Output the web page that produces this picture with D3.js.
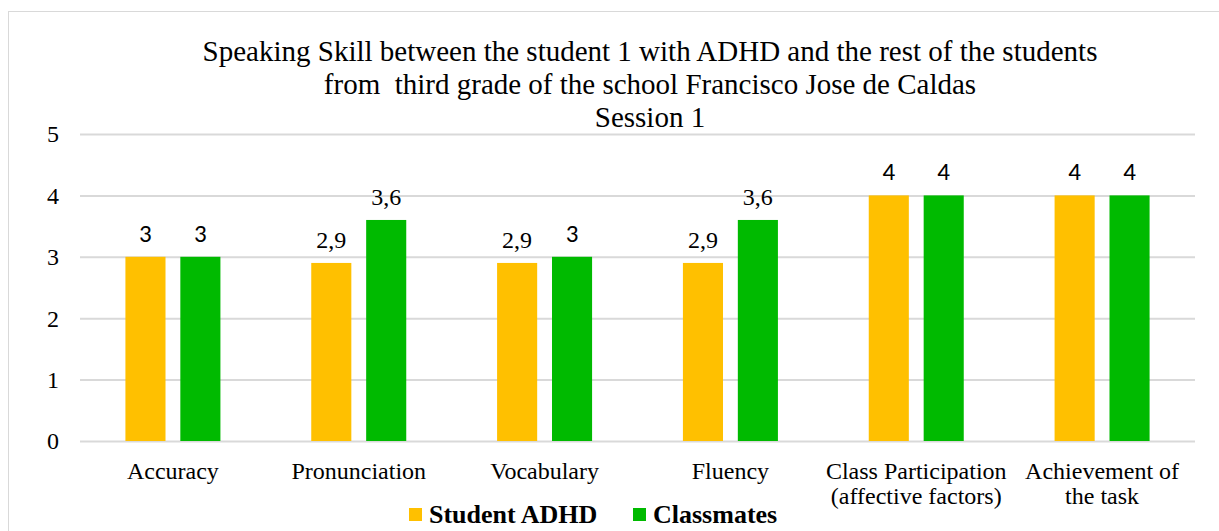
<!DOCTYPE html>
<html><head><meta charset="utf-8">
<script src="https://cdn.jsdelivr.net/npm/d3@7"></script>
<style>body{margin:0;background:#fff}svg{display:block}</style>
</head><body>
<script>
const categories = ["Accuracy|", "Pronunciation|", "Vocabulary|", "Fluency|", "Class Participation|(affective factors)", "Achievement of|the task"];
const seriesNames = ["Student ADHD", "Classmates"];
const studentADHD = [3, 2.9, 2.9, 2.9, 4, 4];
const classmates = [3, 3.6, 3, 3.6, 4, 4];
const yTicks = [0, 1, 2, 3, 4, 5];
const titleLines = ["Speaking Skill between the student 1 with ADHD and the rest of the students", "from  third grade of the school Francisco Jose de Caldas", "Session 1"];
const colors = ["#FFC000", "#00BA00"];

const W = 1219, H = 531;
const svg = d3.select("body").append("svg").attr("width", W).attr("height", H);
svg.append("rect").attr("x", 8.5).attr("y", 11.5).attr("width", 1230).attr("height", 560)
  .attr("fill", "none").attr("stroke", "#d9d9d9");

const x0 = d3.scaleBand().domain(d3.range(categories.length)).range([80, 1195]);
const x1 = d3.scaleBand().domain([0, 1]).range([x0.bandwidth() / 2 - 47.5, x0.bandwidth() / 2 + 47.5]).paddingInner(0.27);
const y = d3.scaleLinear().domain([0, 5]).range([441, 134]);

const serif = '"Liberation Serif", "Times New Roman", serif';
const calibri = 'Carlito, Lato, sans-serif';

// title
svg.append("g").selectAll("text").data(titleLines).join("text")
  .attr("x", 650).attr("y", (d, i) => 61 + i * 33).attr("text-anchor", "middle")
  .style("font-family", serif).style("font-size", "29px").attr("fill", "#000")
  .style("white-space", "pre").text(d => d);

// gridlines
const yAxis = d3.axisLeft(y).tickValues(yTicks).tickSize(-(1195 - 80)).tickFormat(d3.format("d")).tickPadding(21);
const ga = svg.append("g").attr("transform", "translate(80,0)").call(yAxis);
ga.select(".domain").remove();
ga.selectAll(".tick line").attr("stroke", "#d9d9d9").attr("stroke-width", 2);
ga.selectAll(".tick text").style("font-family", serif).style("font-size", "24px").attr("fill", "#000").attr("dy", "0.33em");

const data = categories.map((c, i) => [studentADHD[i], classmates[i]]);
const groups = svg.append("g").selectAll("g").data(data).join("g")
  .attr("transform", (d, i) => `translate(${x0(i)},0)`);
groups.selectAll("rect").data(d => d).join("rect")
  .attr("x", (d, j) => x1(j)).attr("width", x1.bandwidth())
  .attr("y", d => y(d)).attr("height", d => y(0) - y(d))
  .attr("fill", (d, j) => colors[j]);
groups.selectAll("text").data(d => d).join("text")
  .attr("x", (d, j) => x1(j) + x1.bandwidth() / 2).attr("y", d => y(d) - 15)
  .attr("text-anchor", "middle")
  .style("font-family", d => Number.isInteger(d) ? calibri : serif)
  .style("font-size", d => Number.isInteger(d) ? "25px" : "24px").attr("fill", "#000")
  .text(d => String(d).replace(".", ","));

// category labels
const cl = svg.append("g").selectAll("text").data(categories).join("text")
  .attr("x", (d, i) => x0(i) + x0.bandwidth() / 2).attr("y", 479)
  .attr("text-anchor", "middle").style("font-family", serif).style("font-size", "24px").attr("fill", "#000");
cl.each(function (d) {
  const parts = d.split("|").filter(s => s.length);
  const t = d3.select(this);
  parts.forEach((p, k) => t.append("tspan").attr("x", t.attr("x")).attr("dy", k ? 25 : 0).text(p));
});

// legend
const legX = [409, 633];
const lg = svg.append("g").selectAll("g").data(seriesNames).join("g")
  .attr("transform", (d, i) => `translate(${legX[i]},508)`);
lg.append("rect").attr("width", 13).attr("height", 13).attr("fill", (d, i) => colors[i]);
lg.append("text").attr("x", 20).attr("y", 14.5).style("font-family", serif).style("font-weight", "bold")
  .style("font-size", "26px").attr("fill", "#000").text(d => d);
</script>
</body></html>
